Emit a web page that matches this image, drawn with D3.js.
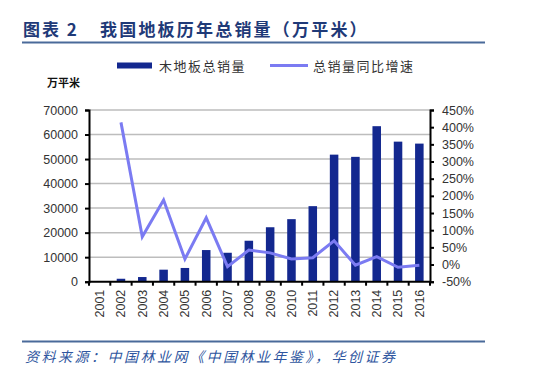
<!DOCTYPE html>
<html><head><meta charset="utf-8">
<script src="https://cdn.jsdelivr.net/npm/d3@7"></script>
<style>body{margin:0;background:#fff}svg{display:block}</style>
</head><body><svg id="c" width="553" height="381"></svg>
<script>
const years = ["2001","2002","2003","2004","2005","2006","2007","2008","2009","2010","2011","2012","2013","2014","2015","2016"];
const sales = [0,1200,1900,4900,5600,12900,11800,16700,22200,25500,30800,51800,50900,63400,57100,56300];
const growth = [null,414,81,188,16,136,-6,42,34,16,20,69,-2,23,-8,-2];
const leftTicks = [0,10000,20000,30000,40000,50000,60000,70000];
const rightTicks = [-50,0,50,100,150,200,250,300,350,400,450];

const svg = d3.select("#c");
const L = 89, R = 430, T = 110, B = 281.7;
const x = d3.scaleBand().domain(years).range([L,R]).paddingInner(0.6).paddingOuter(0.3);
const xc = d3.scalePoint().domain(years).range([L + (R-L)/32, R - (R-L)/32]);
const yL = d3.scaleLinear().domain([0,70000]).range([B,T]);
const yR = d3.scaleLinear().domain([-50,450]).range([B,T]);

// title
const tStyle = s => s.attr("fill","#1f3a78").style("font-family","'Noto Sans CJK SC'").style("font-weight","bold").style("font-size","17px");
svg.append("text").attr("x",23).attr("y",36).call(tStyle).style("letter-spacing","2px").text("图表 2");
svg.append("text").attr("x",100).attr("y",36).call(tStyle).style("letter-spacing","2.2px").text("我国地板历年总销量（万平米）");
svg.append("line").attr("x1",22).attr("x2",485).attr("y1",42.5).attr("y2",42.5).attr("stroke","#4a6a9a").attr("stroke-width",2);

// legend
svg.append("rect").attr("x",117).attr("y",62.5).attr("width",35).attr("height",6).attr("fill","#13288f");
svg.append("text").attr("x",159).attr("y",70.5).attr("fill","#333").style("font-family","'Noto Sans CJK SC'").style("font-size","13px").style("letter-spacing","1.5px").text("木地板总销量");
svg.append("line").attr("x1",270).attr("x2",308).attr("y1",65.5).attr("y2",65.5).attr("stroke","#7b7bf2").attr("stroke-width",3);
svg.append("text").attr("x",313).attr("y",70.5).attr("fill","#333").style("font-family","'Noto Sans CJK SC'").style("font-size","13px").style("letter-spacing","1.5px").text("总销量同比增速");

svg.append("text").attr("x",47).attr("y",87).attr("fill","#111").style("font-family","'Noto Sans CJK SC'").style("font-weight","bold").style("font-size","11px").text("万平米");

// gridlines
svg.append("g").selectAll("line").data(leftTicks.filter(d=>d>0)).join("line")
  .attr("x1",L).attr("x2",R).attr("y1",d=>yL(d)).attr("y2",d=>yL(d))
  .attr("stroke","#bdbdbd").attr("stroke-width",1.5);

// bars
svg.append("g").selectAll("rect").data(years.map((y,i)=>({y,v:sales[i]})).filter(d=>d.v>0)).join("rect")
  .attr("x",d=>x(d.y)).attr("width",x.bandwidth()).attr("y",d=>yL(d.v)).attr("height",d=>B-yL(d.v))
  .attr("fill","#13288f");

// line
const pts = years.map((y,i)=>({y,v:growth[i]})).filter(d=>d.v!==null);
svg.append("path").datum(pts).attr("fill","none").attr("stroke","#7b7bf2").attr("stroke-width",3)
  .attr("stroke-linejoin","miter")
  .attr("d",d3.line().x(d=>xc(d.y)).y(d=>yR(d.v)));

const fontAx = "'Liberation Sans', Arial, sans-serif";
// left axis
const gl = svg.append("g").attr("transform",`translate(${L},0)`)
  .call(d3.axisLeft(yL).tickValues(leftTicks).tickSize(4).tickPadding(7).tickFormat(d3.format("d")));
// right axis
const gr = svg.append("g").attr("transform",`translate(${R},0)`)
  .call(d3.axisRight(yR).tickValues(rightTicks).tickSize(4).tickPadding(8).tickFormat(d=>d+"%"));
// x axis
const gx = svg.append("g").attr("transform",`translate(0,${B})`)
  .call(d3.axisBottom(x).tickSize(0).tickPadding(0));
[gl,gr,gx].forEach(g=>{
  g.select(".domain").attr("stroke","#000").attr("stroke-width",2);
  g.selectAll(".tick line").attr("stroke","#000").attr("stroke-width",2);
  g.selectAll("text").style("font-family",fontAx).style("font-size","12.5px").attr("fill","#333");
});
gx.select(".domain").attr("d",`M${L},0H${R}`);
gx.selectAll(".tick text").attr("transform","rotate(-90)").attr("x",-8).attr("y",0).attr("dy","0.35em").style("text-anchor","end");
// x tick marks at category boundaries
const step = (R-L)/years.length;
gx.append("g").selectAll("line").data(d3.range(years.length+1)).join("line")
  .attr("x1",i=>L+i*step).attr("x2",i=>L+i*step).attr("y1",0).attr("y2",4)
  .attr("stroke","#000").attr("stroke-width",2);

// footer
svg.append("line").attr("x1",22).attr("x2",485).attr("y1",341.5).attr("y2",341.5).attr("stroke","#4a6a9a").attr("stroke-width",2);
svg.append("text").attr("x",25).attr("y",362).attr("fill","#2f56a0")
  .style("font-family","'Noto Sans CJK SC'").style("font-style","italic").style("font-size","14px").style("letter-spacing","2.5px")
  .text("资料来源：中国林业网《中国林业年鉴》，华创证券");
</script></body></html>
